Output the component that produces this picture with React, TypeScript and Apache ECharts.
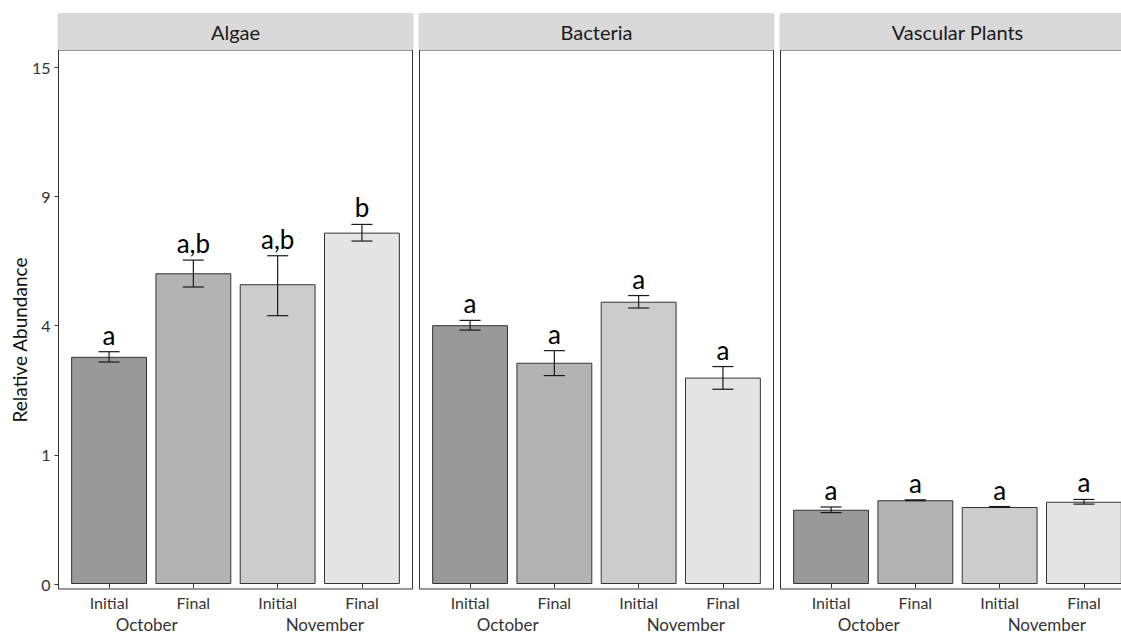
import React, { useEffect, useRef } from "react";
import * as echarts from "echarts";

// ---- data (Relative Abundance, original units; plotted on a square-root scale) ----
const panels = ["Algae", "Bacteria", "Vascular Plants"];
const treatments = ["Initial", "Final", "Initial", "Final"];
const months = ["October", "November"];
const algaeMean = [3.09, 5.78, 5.38, 7.39];
const algaeSE = [0.14, 0.5, 1.07, 0.35];
const algaeLetters = ["a", "a,b", "a,b", "b"];
const bacteriaMean = [4.01, 2.93, 4.77, 2.55];
const bacteriaSE = [0.15, 0.33, 0.21, 0.28];
const bacteriaLetters = ["a", "a", "a", "a"];
const vascularMean = [0.33, 0.42, 0.355, 0.405];
const vascularSE = [0.025, 0.004, 0.004, 0.023];
const vascularLetters = ["a", "a", "a", "a"];
const tickPositions = [0, 1, 2, 3, 4];
const tickLabels = ["0", "1", "4", "9", "15"];
const yTitle = "Relative Abundance";
const barColors = ["#999999", "#b3b3b3", "#cccccc", "#e5e5e5"];

const means = [algaeMean, bacteriaMean, vascularMean];
const ses = [algaeSE, bacteriaSE, vascularSE];
const letters = [algaeLetters, bacteriaLetters, vascularLetters];

const FONT = "Lato, 'Open Sans', sans-serif";
const PANEL_LEFTS = [58.5, 419.5, 780.5];
const PANEL_W = 354;
const PANEL_TOP = 50;
const PANEL_H = 539;
const INSET = (PANEL_W * 0.1) / 4.2;
const PX_PER_UNIT = 129.25;
const Y_MIN = -5 / PX_PER_UNIT;
const Y_MAX = Y_MIN + PANEL_H / PX_PER_UNIT;

export default function App() {
  const ref = useRef<HTMLDivElement>(null);
  useEffect(() => {
    if (!ref.current) return;
    const chart = echarts.init(ref.current, undefined, { renderer: "svg" });
    const grids: any[] = [];
    const xAxes: any[] = [];
    const yAxes: any[] = [];
    const series: any[] = [];
    const graphics: any[] = [];

    panels.forEach((name, p) => {
      const pl = PANEL_LEFTS[p];
      grids.push({
        left: pl + INSET,
        top: PANEL_TOP,
        width: PANEL_W - 2 * INSET,
        height: PANEL_H,
        containLabel: false,
        outerBoundsMode: "none",
      });
      xAxes.push({
        type: "category",
        gridIndex: p,
        data: treatments,
        min: 0,
        max: treatments.length - 1,
        position: "bottom",
        axisLine: { show: false },
        axisTick: { show: true, alignWithLabel: true, length: 4, lineStyle: { color: "#333" } },
        axisLabel: { color: "#333", fontSize: 16, fontFamily: FONT, margin: 5, interval: 0 },
      });
      xAxes.push({
        type: "category",
        gridIndex: p,
        data: months,
        min: 0,
        max: months.length - 1,
        position: "bottom",
        offset: 21,
        axisLine: { show: false },
        axisTick: { show: false },
        axisLabel: {
          color: "#333",
          fontSize: 17,
          fontFamily: FONT,
          margin: 6,
          interval: 0,
          formatter: (v: string, idx: number) => (idx === 0 ? `{a|${v}}` : `{b|${v}}`),
          rich: {
            a: { fontSize: 17, fontFamily: FONT, color: "#333", padding: [0, 9, 0, 0] },
            b: { fontSize: 17, fontFamily: FONT, color: "#333", padding: [0, 0, 0, 10] },
          },
        },
      });
      yAxes.push({
        type: "value",
        gridIndex: p,
        min: Y_MIN,
        max: Y_MAX,
        offset: INSET,
        show: p === 0,
        splitLine: { show: false },
        axisLine: { show: false },
        axisTick: { show: true, length: 4, customValues: tickPositions, lineStyle: { color: "#333" } },
        axisLabel: {
          customValues: tickPositions,
          color: "#333",
          fontSize: 16,
          fontFamily: FONT,
          margin: 8,
          formatter: (v: number) => tickLabels[tickPositions.indexOf(Math.round(v))] ?? "",
        },
      });

      const m = means[p];
      const s = ses[p];
      series.push({
        type: "bar",
        xAxisIndex: p * 2,
        yAxisIndex: p,
        barWidth: "90%",
        data: m.map((v, i) => ({
          value: Math.sqrt(v),
          itemStyle: { color: barColors[i], borderColor: "#333", borderWidth: 1 },
        })),
      });
      series.push({
        type: "custom",
        xAxisIndex: p * 2,
        yAxisIndex: p,
        z: 5,
        encode: { x: 0, y: [1, 2] },
        data: m.map((v, i) => [i, Math.sqrt(Math.max(v - s[i], 0)), Math.sqrt(v + s[i])]),
        renderItem: (params: any, api: any) => {
          const i = api.value(0);
          const lo = api.coord([i, api.value(1)]);
          const hi = api.coord([i, api.value(2)]);
          const half = api.size([1, 0])[0] * 0.125;
          const st = { stroke: "#1a1a1a", lineWidth: 1.2 };
          return {
            type: "group",
            children: [
              { type: "line", shape: { x1: lo[0], y1: lo[1], x2: hi[0], y2: hi[1] }, style: st },
              { type: "line", shape: { x1: lo[0] - half, y1: lo[1], x2: lo[0] + half, y2: lo[1] }, style: st },
              { type: "line", shape: { x1: hi[0] - half, y1: hi[1], x2: hi[0] + half, y2: hi[1] }, style: st },
            ],
          };
        },
      });
      series.push({
        type: "custom",
        xAxisIndex: p * 2,
        yAxisIndex: p,
        z: 6,
        encode: { x: 0, y: 1 },
        data: m.map((v, i) => [i, Math.sqrt(v + s[i]), i]),
        renderItem: (params: any, api: any) => {
          const i = api.value(0);
          const pt = api.coord([i, api.value(1)]);
          return {
            type: "text",
            x: pt[0],
            y: pt[1] - 4,
            style: {
              text: letters[p][api.value(2)],
              fill: "#000",
              fontSize: 26,
              fontFamily: FONT,
              align: "center",
              verticalAlign: "bottom",
            },
          };
        },
      });

      graphics.push({
        type: "rect",
        shape: { x: pl, y: PANEL_TOP, width: PANEL_W, height: PANEL_H },
        style: { fill: "none", stroke: "#333", lineWidth: 1 },
        z: 10,
      });
      graphics.push({
        type: "rect",
        shape: { x: pl - 1, y: 13, width: PANEL_W + 2, height: 37, r: 2 },
        style: { fill: "#d9d9d9", stroke: "none" },
        z: 11,
      });
      graphics.push({
        type: "text",
        x: pl + PANEL_W / 2,
        y: 32,
        style: {
          text: name,
          fill: "#1a1a1a",
          fontSize: 20,
          fontFamily: FONT,
          align: "center",
          verticalAlign: "middle",
        },
        z: 12,
      });
    });

    graphics.push({
      type: "text",
      x: 19,
      y: 340,
      rotation: Math.PI / 2,
      style: {
        text: yTitle,
        fill: "#111",
        fontSize: 19,
        fontFamily: FONT,
        align: "center",
        verticalAlign: "middle",
      },
      z: 12,
    });

    chart.setOption({
      animation: false,
      backgroundColor: "#ffffff",
      grid: grids,
      xAxis: xAxes,
      yAxis: yAxes,
      series,
      graphic: { elements: graphics },
    });
    return () => chart.dispose();
  }, []);

  return (
    <div style={{ position: "fixed", left: 0, top: 0, width: 1121, height: 635, overflow: "hidden", background: "#fff" }}>
      <div ref={ref} style={{ width: 1150, height: 635 }} />
    </div>
  );
}
